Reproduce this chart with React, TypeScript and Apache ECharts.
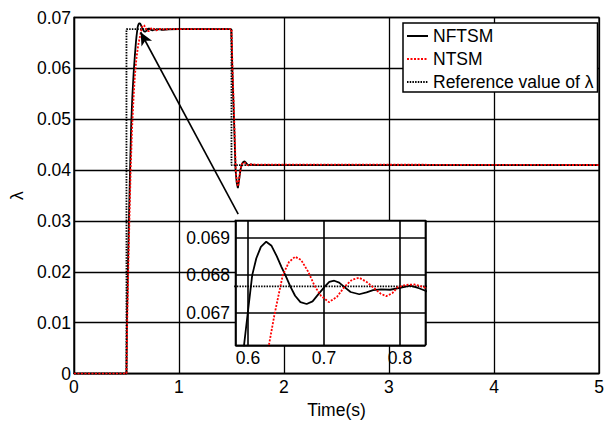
import React, { useEffect, useRef } from "react";
import * as echarts from "echarts";

// ---- data ----
const xTicks = [0, 1, 2, 3, 4, 5];
const yTicks = [0, 0.01, 0.02, 0.03, 0.04, 0.05, 0.06, 0.07];

const nftsmT = [
  0, 0.5, 0.504, 0.513, 0.523, 0.534, 0.545, 0.556, 0.568, 0.58, 0.59, 0.5948, 0.5995,
  0.6056, 0.611, 0.617, 0.624, 0.631, 0.638, 0.644, 0.6492, 0.6557, 0.662, 0.669, 0.6772,
  0.685, 0.693, 0.7013, 0.707, 0.7135, 0.72, 0.727, 0.735, 0.7464, 0.756, 0.7646, 0.775,
  0.787, 0.8, 0.8134, 0.825, 0.835, 0.85, 0.9, 1.0, 1.498, 1.508, 1.524, 1.539, 1.55,
  1.561, 1.572, 1.585, 1.6, 1.612, 1.624, 1.64, 1.66, 1.68, 1.72, 5.0,
];
const nftsmV = [
  0, 0, 0.01, 0.02, 0.03, 0.04, 0.049, 0.0545, 0.059, 0.0625, 0.0651, 0.06613, 0.06695,
  0.068, 0.06845, 0.06875, 0.06889, 0.06878, 0.0685, 0.06822, 0.068, 0.0677, 0.06745,
  0.06728, 0.06723, 0.0673, 0.0675, 0.0677, 0.06782, 0.06785, 0.0678, 0.06768, 0.06755,
  0.06749, 0.06754, 0.0676, 0.06762, 0.06761, 0.06766, 0.06772, 0.06765, 0.06757, 0.06755,
  0.06768, 0.0677, 0.0677, 0.06, 0.05, 0.04, 0.0375, 0.03645, 0.038, 0.04, 0.0412, 0.0416,
  0.04172, 0.0414, 0.0409, 0.0411, 0.041, 0.041,
];

const ntsmT = [
  0, 0.5, 0.507, 0.517, 0.528, 0.54, 0.553, 0.567, 0.58, 0.595, 0.61, 0.62, 0.6275,
  0.6349, 0.6458, 0.654, 0.6621, 0.67, 0.679, 0.688, 0.696, 0.7065, 0.717, 0.7275, 0.737,
  0.7464, 0.756, 0.766, 0.775, 0.782, 0.79, 0.797, 0.808, 0.819, 0.828, 0.835, 0.85, 0.9,
  1.0, 1.5, 1.51, 1.526, 1.541, 1.552, 1.563, 1.574, 1.588, 1.603, 1.618, 1.632, 1.65,
  1.68, 5.0,
];
const ntsmV = [
  0, 0, 0.01, 0.02, 0.03, 0.04, 0.048, 0.054, 0.0585, 0.062, 0.0643, 0.0654, 0.06613,
  0.06695, 0.068, 0.06835, 0.06849, 0.0684, 0.0681, 0.0677, 0.06745, 0.06728, 0.06742,
  0.0677, 0.06788, 0.06793, 0.06782, 0.06765, 0.0675, 0.06744, 0.06752, 0.06768, 0.06774,
  0.06775, 0.0677, 0.06765, 0.06766, 0.06772, 0.0677, 0.0677, 0.06, 0.05, 0.04, 0.0375,
  0.0368, 0.0385, 0.0404, 0.0413, 0.0415, 0.0414, 0.041, 0.0411, 0.041,
];

const refT = [0, 0.5, 0.5, 1.5, 1.5, 5.0];
const refV = [0, 0, 0.0677, 0.0677, 0.041, 0.041];

// arrow annotation (from inset corner to the overshoot), in data units
const arrowFrom = [1.564, 0.03136];
const arrowTo = [0.635, 0.0671];

// inset view window
const insetX = [0.5836, 0.8333];
const insetY = [0.06613, 0.06946];

const legendNames = ["NFTSM", "NTSM", "Reference value of λ"];

const pairs = (t: number[], v: number[]) => t.map((x, i) => [x, v[i]]);

const FONT = 'Arial, "Liberation Sans", sans-serif';
const FS = 17.5;

export default function App() {
  const ref = useRef<HTMLDivElement>(null);

  useEffect(() => {
    if (!ref.current) return;
    const chart = echarts.init(ref.current, undefined, { renderer: "svg" });

    const nftsmStyle = { color: "#000", width: 1.8, type: "solid" as const };
    const ntsmStyle = { color: "#ff0000", width: 1.8, type: [2, 1.5] };
    const refStyle = { color: "#000", width: 1.8, type: [1.5, 1.2] };

    const mkSeries = (name: string, data: number[][], ls: any, idx: number, z: number) => ({
      name,
      type: "line",
      data,
      xAxisIndex: idx,
      yAxisIndex: idx,
      symbol: "none",
      showSymbol: false,
      clip: true,
      z,
      lineStyle: ls,
      itemStyle: { color: ls.color },
      emphasis: { disabled: true },
    });

    const axisText = { color: "#000", fontSize: FS, fontFamily: FONT };

    const option: any = {
      animation: false,
      backgroundColor: "#fff",
      textStyle: { fontFamily: FONT },
      grid: [
        {
          left: 71,
          top: 17.5,
          width: 528,
          height: 367,
          show: true,
          borderColor: "#000",
          borderWidth: 1.3,
          backgroundColor: "transparent",
        },
        {
          left: 235.5,
          top: 220.3,
          width: 189.8,
          height: 125,
          show: true,
          borderColor: "#000",
          borderWidth: 1.3,
          backgroundColor: "#fff",
          z: 3,
        },
      ],
      xAxis: [
        {
          type: "value",
          gridIndex: 0,
          min: xTicks[0],
          max: xTicks[xTicks.length - 1],
          interval: 1,
          name: "Time(s)",
          nameLocation: "middle",
          nameGap: 23,
          nameTextStyle: axisText,
          axisLine: { show: true, lineStyle: { color: "#000", width: 1.3 } },
          axisTick: { show: false },
          axisLabel: { ...axisText, margin: 4.5 },
          splitLine: { show: true, lineStyle: { color: "#000", width: 1.3 } },
        },
        {
          type: "value",
          gridIndex: 1,
          min: insetX[0],
          max: insetX[1],
          splitNumber: 3,
          z: 4,
          axisLine: { show: true, lineStyle: { color: "#000", width: 1.3 } },
          axisTick: { show: false },
          axisLabel: { ...axisText, margin: 3.5, showMinLabel: false, showMaxLabel: false },
          splitLine: { show: true, lineStyle: { color: "#000", width: 1.6 } },
        },
      ],
      yAxis: [
        {
          type: "value",
          gridIndex: 0,
          min: yTicks[0],
          max: yTicks[yTicks.length - 1],
          interval: 0.01,
          name: "λ",
          nameLocation: "middle",
          nameGap: 35,
          nameTextStyle: axisText,
          axisLine: { show: true, lineStyle: { color: "#000", width: 1.3 } },
          axisTick: { show: false },
          axisLabel: { ...axisText, margin: 3 },
          splitLine: { show: true, lineStyle: { color: "#000", width: 1.3 } },
        },
        {
          type: "value",
          gridIndex: 1,
          min: insetY[0],
          max: insetY[1],
          splitNumber: 3,
          z: 4,
          axisLine: { show: true, lineStyle: { color: "#000", width: 1.3 } },
          axisTick: { show: false },
          axisLabel: { ...axisText, margin: 5.5, showMinLabel: false, showMaxLabel: false },
          splitLine: { show: true, lineStyle: { color: "#000", width: 1.6 } },
        },
      ],
      legend: {
        data: legendNames,
        orient: "vertical",
        left: 403,
        top: 23,
        padding: [4, 4, 1, 3],
        itemWidth: 21,
        itemHeight: 14,
        itemGap: 5,
        backgroundColor: "#fff",
        borderColor: "#000",
        borderWidth: 1.5,
        borderRadius: 0,
        selectedMode: false,
        z: 6,
        itemStyle: { opacity: 0, borderWidth: 0 },
        textStyle: { color: "#000", fontSize: FS, fontFamily: FONT },
      },
      series: [
        {
          ...mkSeries(legendNames[2], pairs(refT, refV), refStyle, 0, 2),
          markLine: {
            silent: true,
            animation: false,
            symbol: ["none", "arrow"],
            symbolSize: [9, 13],
            label: { show: false },
            lineStyle: { color: "#000", width: 1.6, type: "solid" },
            emphasis: { disabled: true },
            data: [[{ coord: arrowFrom }, { coord: arrowTo }]],
          },
        },
        mkSeries(legendNames[0], pairs(nftsmT, nftsmV), nftsmStyle, 0, 2),
        mkSeries(legendNames[1], pairs(ntsmT, ntsmV), ntsmStyle, 0, 2),
        mkSeries(legendNames[2], pairs(refT, refV), refStyle, 1, 5),
        mkSeries(legendNames[0], pairs(nftsmT, nftsmV), nftsmStyle, 1, 5),
        mkSeries(legendNames[1], pairs(ntsmT, ntsmV), ntsmStyle, 1, 5),
      ],
    };

    chart.setOption(option);
    return () => chart.dispose();
  }, []);

  return (
    <div
      ref={ref}
      style={{ position: "absolute", left: 0, top: 0, width: 616, height: 424 }}
    />
  );
}
